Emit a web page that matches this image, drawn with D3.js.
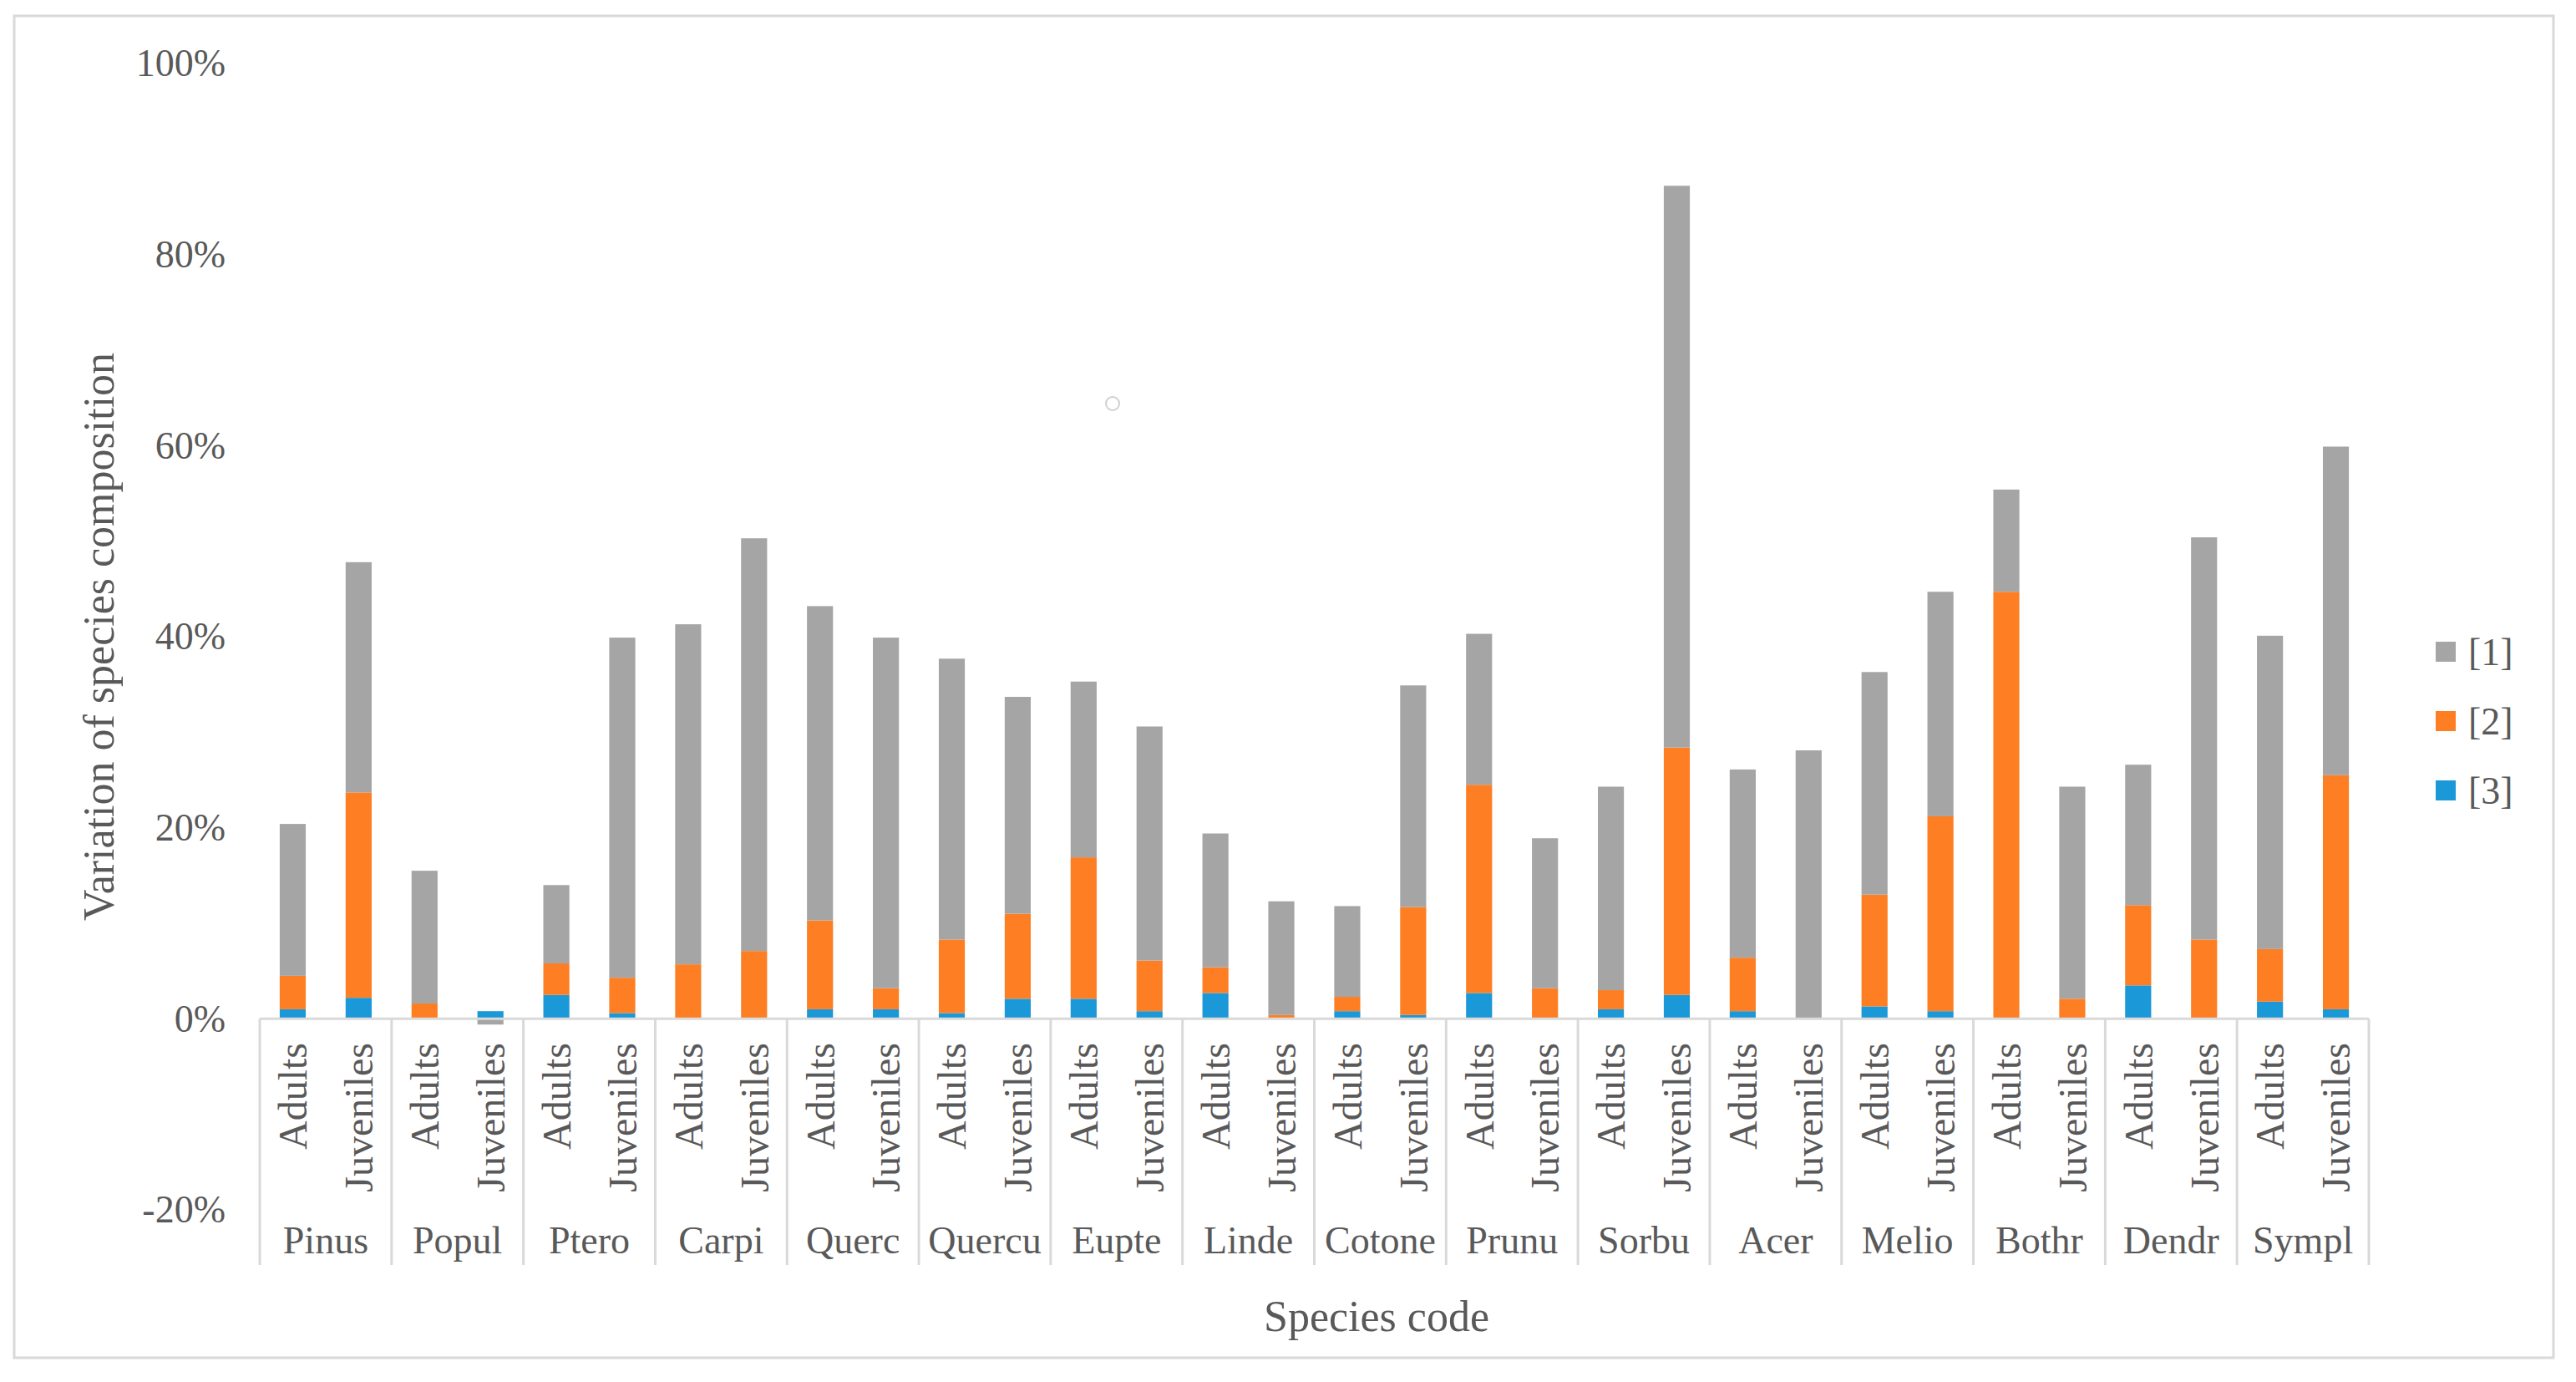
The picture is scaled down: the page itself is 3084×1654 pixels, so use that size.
<!DOCTYPE html>
<html>
<head>
<meta charset="utf-8">
<script src="https://cdn.jsdelivr.net/npm/d3@7"></script>
<style>
  html, body { margin: 0; padding: 0; background: #ffffff; }
  svg { display: block; }
  text { font-family: "Liberation Serif", "Times New Roman", serif; fill: #595959; }
</style>
</head>
<body>
<svg id="chart" width="3084" height="1654"></svg>
<script>
// ---- data ----
const species = ["Pinus","Popul","Ptero","Carpi","Querc","Quercu","Eupte","Linde","Cotone","Prunu","Sorbu","Acer","Melio","Bothr","Dendr","Sympl"];
const stages = ["Adults","Juveniles"];
const seriesNames = ["[1]","[2]","[3]"];
// values in %, ordered species x stage (Adults, Juveniles)
const series1 = [15.9,24.1, 13.9,-0.6, 8.2,35.6, 35.6,43.2, 32.9,36.7, 29.4,22.7, 18.4,24.5, 14.0,11.9,
                 9.5,23.2, 15.8,15.7, 21.3,58.8, 19.7,28.1, 23.3,23.5, 10.7,22.2, 14.7,42.1, 32.8,34.4];
const series2 = [3.5,21.5, 1.6,0.0, 3.3,3.7, 5.7,7.1, 9.3,2.2, 7.7,8.9, 14.8,5.3, 2.7,0.4,
                 1.5,11.3, 21.8,3.2, 2.0,25.9, 5.6,0.0, 11.7,20.4, 44.7,2.1, 8.4,8.3, 5.5,24.5];
const series3 = [1.0,2.2, 0.0,0.8, 2.5,0.6, 0.0,0.0, 1.0,1.0, 0.6,2.1, 2.1,0.8, 2.7,0.0,
                 0.8,0.4, 2.7,0.0, 1.0,2.5, 0.8,0.0, 1.3,0.8, 0.0,0.0, 3.5,0.0, 1.8,1.0];
const yTicks = [-0.2, 0, 0.2, 0.4, 0.6, 0.8, 1.0];
const colors = {"[1]": "#a5a5a5", "[2]": "#fd7e23", "[3]": "#1b98d8"};

// ---- build table ----
const rows = [];
species.forEach((sp, i) => {
  stages.forEach((st, j) => {
    const k = i * 2 + j;
    rows.push({id: k, species: sp, stage: st,
      "[1]": series1[k] / 100, "[2]": series2[k] / 100, "[3]": series3[k] / 100});
  });
});

const svg = d3.select("#chart");

// frame
svg.append("rect").attr("x", 17).attr("y", 19).attr("width", 3040).attr("height", 1606)
  .attr("fill", "none").attr("stroke", "#d9d9d9").attr("stroke-width", 3);

const left = 311, right = 2836;
const x = d3.scaleBand().domain(rows.map(d => d.id)).range([left, right])
  .paddingInner(0.605).paddingOuter(0.3025);
const xg = d3.scaleBand().domain(species).range([left, right]).padding(0);
const y = d3.scaleLinear().domain([-0.2, 1.0]).range([1448, 76]);

// y axis labels
const pct = d3.format(".0%");
const yAxis = d3.axisLeft(y).tickValues(yTicks).tickFormat(d => pct(d).replace("\u2212", "-"))
  .tickSize(0).tickPadding(41);
const gy = svg.append("g").attr("transform", `translate(${left},0)`).call(yAxis);
gy.select(".domain").remove();
gy.selectAll("text").attr("font-size", 46).attr("fill", "#595959")
  .style("font-family", '"Liberation Serif", "Times New Roman", serif');

// stacked bars: [3] bottom, [2], [1] top
const stack = d3.stack().keys(["[3]","[2]","[1]"]).offset(d3.stackOffsetDiverging);
const stacked = stack(rows);
svg.append("g").selectAll("g").data(stacked).join("g")
  .attr("fill", s => colors[s.key])
  .selectAll("rect").data(s => s).join("rect")
  .attr("x", d => x(d.data.id))
  .attr("width", x.bandwidth())
  .attr("y", d => y(Math.max(d[0], d[1])))
  .attr("height", d => Math.abs(y(d[0]) - y(d[1])));

// category axis
const y0 = y(0), axisBottom = 1514;
svg.append("line").attr("x1", left).attr("x2", right).attr("y1", y0).attr("y2", y0)
  .attr("stroke", "#d9d9d9").attr("stroke-width", 3);
const bounds = species.map(s => xg(s)).concat([right]);
svg.append("g").selectAll("line").data(bounds).join("line")
  .attr("x1", d => d).attr("x2", d => d).attr("y1", y0).attr("y2", axisBottom)
  .attr("stroke", "#d9d9d9").attr("stroke-width", 3);

// stage labels
svg.append("g").selectAll("text").data(rows).join("text")
  .attr("transform", d => `translate(${x(d.id) + x.bandwidth() / 2},1248) rotate(-90)`)
  .attr("text-anchor", "end").attr("dy", "0.35em").attr("font-size", 48)
  .text(d => d.stage);

// species labels
svg.append("g").selectAll("text").data(species).join("text")
  .attr("x", d => xg(d) + xg.bandwidth() / 2).attr("y", 1500)
  .attr("text-anchor", "middle").attr("font-size", 46)
  .text(d => d);

// axis titles
svg.append("text").attr("x", 1648).attr("y", 1593).attr("text-anchor", "middle")
  .attr("font-size", 52).text("Species code");
svg.append("text").attr("transform", "translate(118,762) rotate(-90)")
  .attr("text-anchor", "middle").attr("dy", "0.35em").attr("font-size", 52)
  .text("Variation of species composition");

// legend
const lg = svg.append("g").selectAll("g").data(seriesNames).join("g")
  .attr("transform", (d, i) => `translate(2916,${768 + i * 83})`);
lg.append("rect").attr("width", 24).attr("height", 24).attr("fill", d => colors[d]);
lg.append("text").attr("x", 39).attr("y", 12).attr("dy", "0.35em")
  .attr("font-size", 46).attr("fill", "#404040").text(d => d);

// small stray circle mark present in the original picture
svg.append("circle").attr("cx", 1332).attr("cy", 483).attr("r", 8)
  .attr("fill", "none").attr("stroke", "#d0d0d0").attr("stroke-width", 2);
</script>
</body>
</html>
